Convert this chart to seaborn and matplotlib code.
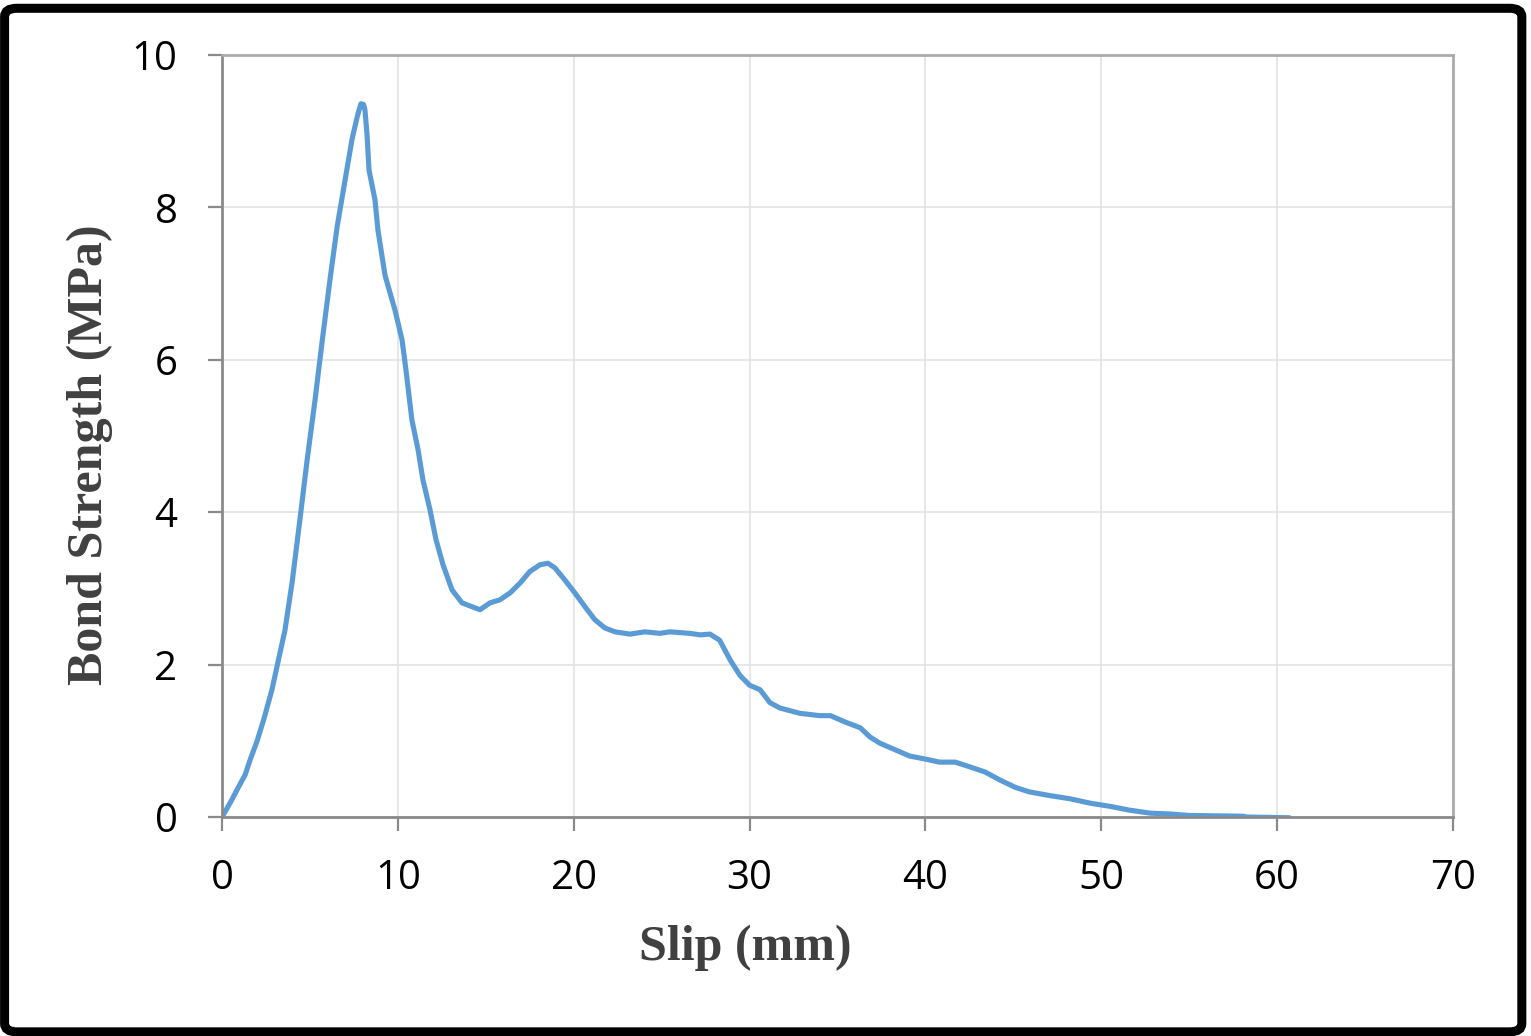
import pandas as pd
import seaborn as sns
import matplotlib.pyplot as plt
from matplotlib.patches import FancyBboxPatch

# slip (mm) and bond strength (MPa)
slip = [0.0, 0.5, 1.0, 1.31, 1.6, 2.0, 2.4, 2.84, 3.2, 3.58, 4.0, 4.43, 4.85, 5.29,
        5.7, 6.14, 6.55, 7.0, 7.4, 7.7, 7.9, 8.05, 8.13, 8.25, 8.36, 8.7, 8.87,
        9.27, 9.84, 10.24, 10.46, 10.8, 11.15, 11.43, 11.83, 12.17, 12.57, 13.08,
        13.65, 14.1, 14.67, 15.24, 15.8, 16.38, 16.95, 17.5, 18.08, 18.54, 18.93,
        19.5, 20.07, 20.64, 21.2, 21.78, 22.35, 23.2, 24.05, 24.9, 25.47, 26.6,
        27.2, 27.75, 28.3, 28.9, 29.45, 30.0, 30.6, 31.16, 31.73, 32.87, 34.0,
        34.6, 35.4, 36.3, 36.85, 37.4, 38.3, 39.1, 40.0, 40.8, 41.7, 42.5, 43.4,
        44.2, 45.1, 45.9, 47.1, 48.2, 49.4, 50.5, 51.6, 52.8, 53.9, 55.0, 58.1,
        58.2, 60.7]
strength = [0.0, 0.2, 0.42, 0.55, 0.75, 1.0, 1.3, 1.67, 2.05, 2.45, 3.1, 3.9, 4.7,
            5.47, 6.25, 7.05, 7.75, 8.36, 8.9, 9.2, 9.36, 9.35, 9.28, 8.95, 8.49,
            8.1, 7.7, 7.11, 6.65, 6.26, 5.87, 5.21, 4.82, 4.42, 4.03, 3.64, 3.31,
            2.98, 2.81, 2.77, 2.72, 2.81, 2.85, 2.94, 3.07, 3.22, 3.31, 3.33, 3.27,
            3.11, 2.94, 2.76, 2.59, 2.48, 2.43, 2.40, 2.43, 2.41, 2.43, 2.41, 2.39,
            2.40, 2.32, 2.06, 1.86, 1.73, 1.67, 1.50, 1.43, 1.36, 1.33, 1.33, 1.25,
            1.17, 1.05, 0.97, 0.88, 0.80, 0.76, 0.72, 0.72, 0.66, 0.59, 0.49, 0.39,
            0.33, 0.28, 0.24, 0.18, 0.14, 0.09, 0.05, 0.04, 0.02, 0.01, 0.0, -0.01]

df = pd.DataFrame({"Slip": slip, "Strength": strength})

sns.set_style("white")
plt.rcParams['font.family'] = ['Open Sans', 'DejaVu Sans']

fig = plt.figure(figsize=(15.31, 10.36), dpi=100)
ax = fig.add_axes([0.145, 0.2114, 0.804, 0.7355])

sns.lineplot(data=df, x="Slip", y="Strength", ax=ax, sort=False,
             color="#5b9bd5", linewidth=3.7)

ax.set_xlim(0, 70)
ax.set_ylim(0, 10)
ax.set_xticks(range(0, 71, 10))
ax.set_yticks(range(0, 11, 2))
ax.grid(True, color="#e3e3e3", linewidth=1.2)
ax.set_axisbelow(True)

for side in ["left", "bottom"]:
    ax.spines[side].set_color("#8a8a8a")
    ax.spines[side].set_linewidth(2)
for side in ["top", "right"]:
    ax.spines[side].set_color("#ababab")
    ax.spines[side].set_linewidth(2)

ax.tick_params(axis="both", which="both", direction="out", length=10, width=1.6,
               color="#8a8a8a", labelsize=29, labelcolor="black",
               left=True, bottom=True)
ax.tick_params(axis="x", pad=20)
ax.tick_params(axis="y", pad=22)

ax.set_xlabel("Slip (mm)", fontsize=36, fontweight="bold", family="Liberation Serif",
              color="#404040")
ax.set_ylabel("Bond Strength (MPa)", fontsize=36, fontweight="bold",
              family="Liberation Serif", color="#404040")
ax.xaxis.set_label_coords(0.425, -0.172)
ax.yaxis.set_label_coords(-0.107, 0.476)
ax.xaxis.label.set_va("center")
ax.yaxis.label.set_va("center")

# black frame round the whole picture
frame = FancyBboxPatch((0.003, 0.004), 0.991, 0.988, boxstyle="round,pad=0,rounding_size=0.008",
                       transform=fig.transFigure, fill=False, edgecolor="black",
                       linewidth=6.5, zorder=10)
fig.patches.append(frame)

plt.savefig("out.png", dpi=100)
